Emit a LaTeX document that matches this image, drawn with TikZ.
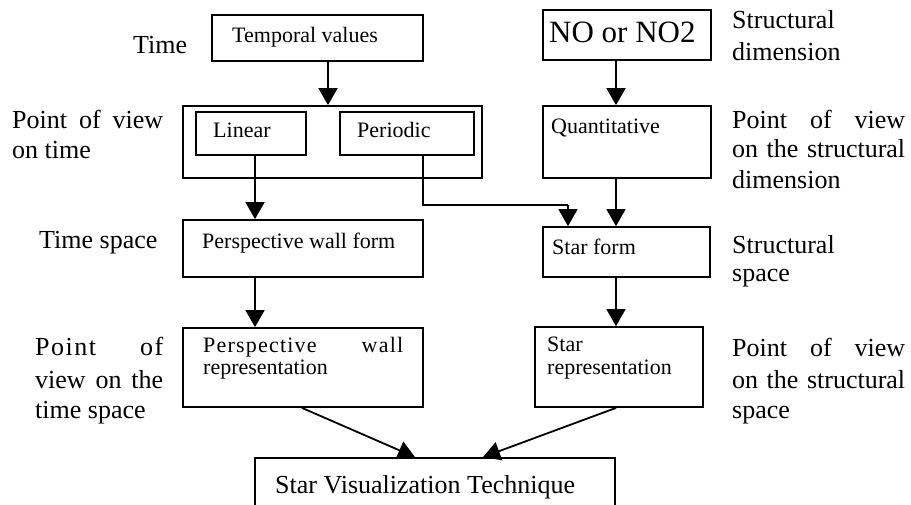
\documentclass[tikz,border=0pt]{standalone}
\usepackage{fontspec}
\setmainfont{Liberation Serif}
\usetikzlibrary{arrows.meta}
\begin{document}
\begin{tikzpicture}[x=1pt,y=-1pt,
  box/.style 2 args={draw,line width=1.8pt,inner sep=0pt,minimum width=#1,minimum height=#2},
  lbl/.style={inner sep=0pt,anchor=base west,font=\fontsize{26}{31}\selectfont},
  btxt/.style={inner sep=0pt,anchor=base west,font=\fontsize{22}{26}\selectfont},
  arr/.style={line width=1.8pt,-{Triangle[width=19pt,length=17pt]}},
  conn/.style={line width=1.6pt}]
\useasboundingbox (0,0) rectangle (911,504);
\clip (0,0) rectangle (911,504);
% boxes
\node[box={211pt}{46pt}] (tv) at (317.5,38) {};
\node[box={299pt}{72pt}] (tvv) at (332.5,142) {};
\node[box={110pt}{43pt}] (lin) at (251,133.5) {};
\node[box={134pt}{43pt}] (per) at (407,133.5) {};
\node[box={240pt}{57pt}] (pwf) at (303,248.5) {};
\node[box={240pt}{79pt}] (pwr) at (303,367.5) {};
\node[box={168pt}{50pt}] (no) at (627,35) {};
\node[box={168pt}{72pt}] (qt) at (627,142) {};
\node[box={167pt}{50pt}] (sf) at (626.5,252) {};
\node[box={168pt}{80pt}] (sr) at (619,367) {};
\node[box={360pt}{62pt}] (svt) at (435,489) {};
% box texts
\node[btxt] (tvT) at (232,42) {Temporal values};
\node[btxt] (linT) at (213,137) {Linear};
\node[btxt] (perT) at (357,137) {Periodic};
\node[btxt] (pwfT) at (202,248) {Perspective wall form};
\node[btxt] (pwrT1) at (203,352) {\makebox[200pt][s]{P\kern1.2pt e\kern1.2pt r\kern1.2pt s\kern1.2pt p\kern1.2pt e\kern1.2pt c\kern1.2pt t\kern1.2pt i\kern1.2pt v\kern1.2pt e\hfill w\kern1.2pt a\kern1.2pt l\kern1.2pt l}};
\node[btxt] (pwrT2) at (203,374) {representation};
\node[inner sep=0pt,anchor=base west,font=\fontsize{31}{35}\selectfont] (noT) at (549,42) {NO or NO2};
\node[btxt] (qtT) at (551,133) {Quantitative};
\node[btxt] (sfT) at (552,254) {Star form};
\node[btxt] (srT1) at (547,351) {Star};
\node[btxt] (srT2) at (547,374) {representation};
\node[lbl] (svtT) at (275,493) {Star Visualization Technique};
% left labels
\node[lbl] (l1) at (133,53) {Time};
\node[lbl] (l2a) at (12,128) {\makebox[151pt][s]{Point\hfill of\hfill view}};
\node[lbl] (l2b) at (12,158) {on time};
\node[lbl] (l3) at (39,248) {Time space};
\node[lbl] (l4a) at (35,355) {\makebox[128pt][s]{P\kern1.5pt o\kern1.5pt i\kern1.5pt n\kern1.5pt t\hfill o\kern1.5pt f}};
\node[lbl] (l4b) at (35,388) {\makebox[128pt][s]{view\hfill on\hfill the}};
\node[lbl] (l4c) at (35,418) {time space};
% right labels
\node[lbl] (r1a) at (732,28) {Structural};
\node[lbl] (r1b) at (732,60) {dimension};
\node[lbl] (r2a) at (732,128) {\makebox[173pt][s]{Point\hfill of\hfill view}};
\node[lbl] (r2b) at (732,157) {\makebox[173pt][s]{on\hfill the\hfill structural}};
\node[lbl] (r2c) at (732,188) {dimension};
\node[lbl] (r3a) at (732,253) {Structural};
\node[lbl] (r3b) at (732,281) {space};
\node[lbl] (r4a) at (732,356) {\makebox[173pt][s]{Point\hfill of\hfill view}};
\node[lbl] (r4b) at (732,388) {\makebox[173pt][s]{on\hfill the\hfill structural}};
\node[lbl] (r4c) at (732,418) {space};
% connectors
\draw[arr] ([xshift=10.5pt]tv.south) -- ([xshift=10.5pt]tv.south |- tvv.north);
\draw[arr] ([xshift=4pt]lin.south) -- ([xshift=4pt]lin.south |- pwf.north);
\draw[arr] ([xshift=-48pt]pwf.south) -- ([xshift=-48pt]pwf.south |- pwr.north);
\coordinate (pbend) at (423,205);
\coordinate (pcorner) at (568,205);
\draw[conn] ([xshift=16pt]per.south) -- (pbend) -- (pcorner);
\draw[arr] (pcorner) -- (pcorner |- sf.north);
\draw[arr] ([xshift=-11pt]no.south) -- ([xshift=-11pt]no.south |- qt.north);
\draw[arr] ([xshift=-11pt]qt.south) -- ([xshift=-11pt]qt.south |- sf.north);
\draw[arr] ([xshift=-10.5pt]sf.south) -- ([xshift=-10.5pt]sf.south |- sr.north);
\draw[arr] ([xshift=-1pt]pwr.south) -- ([xshift=-20pt]svt.north);
\draw[arr] ([xshift=-3pt]sr.south) -- ([xshift=48pt]svt.north);
\end{tikzpicture}
\end{document}
